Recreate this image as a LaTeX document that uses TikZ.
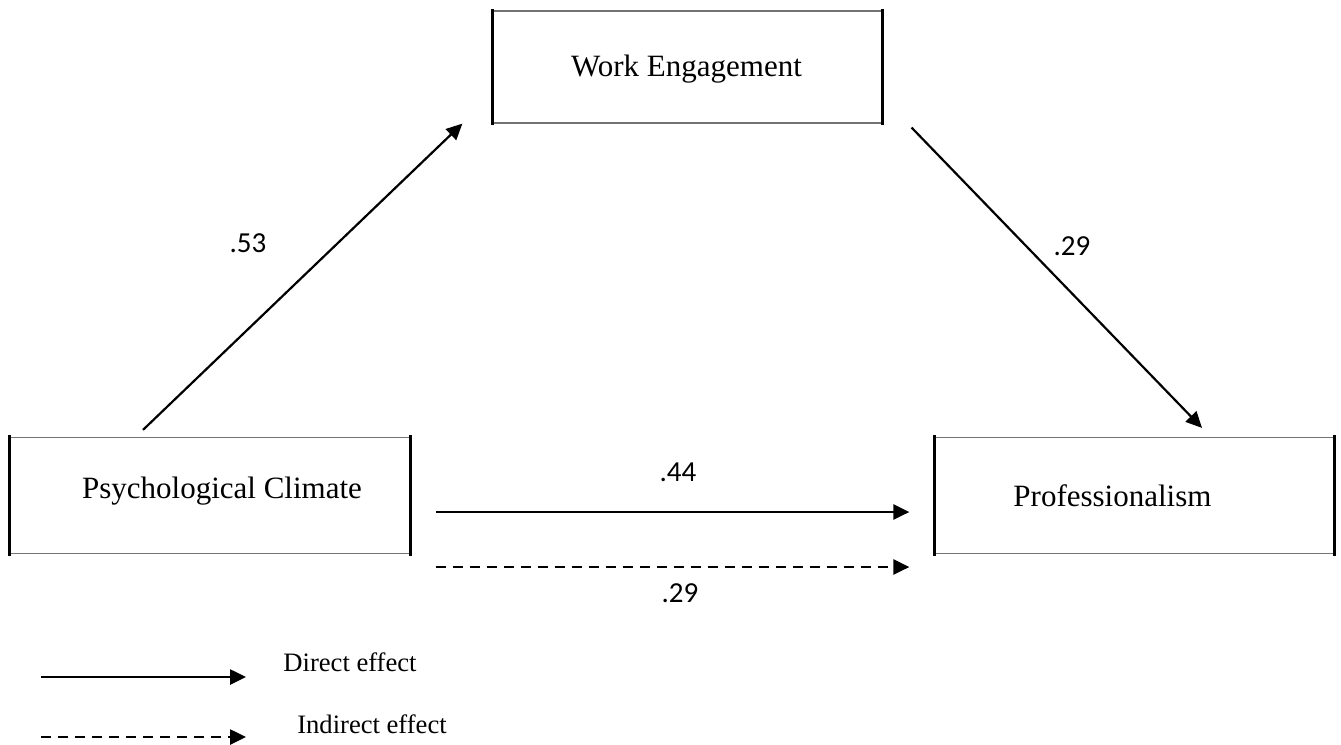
\documentclass[tikz,border=0pt]{standalone}
\usepackage{fontspec}
\setmainfont{Liberation Serif}
\newfontfamily\numfont{Carlito}
\usetikzlibrary{arrows.meta,calc,positioning}

\begin{document}
\begin{tikzpicture}[x=0.5pt,y=-0.5pt]
\tikzstyle{var}=[draw=black!55, line width=0.6pt, minimum height=58pt, inner sep=0pt]
\tikzstyle{vartext}=[font=\fontsize{15.5}{18}\selectfont, inner sep=0pt]
\tikzstyle{side}=[line width=1.6pt, line cap=rect]
\tikzstyle{coef}=[font=\numfont\fontsize{14.5}{16}\selectfont, inner sep=0pt]
\tikzstyle{path}=[line width=1.3pt, -{Triangle[length=8pt,width=7.5pt]}]
\tikzstyle{slant}=[path, line width=1.1pt]
\tikzstyle{indirect}=[path, dash pattern=on 5pt off 3.5pt]
\tikzstyle{legtext}=[font=\fontsize{13.3}{15}\selectfont, inner sep=0pt]

\useasboundingbox (0,0) rectangle (1341,745);

% variables
\node[var, minimum width=194.5pt, minimum height=56pt] (we) at (687.5,67) {};
\node[var, minimum width=200pt] (pc) at (210,495.5) {};
\node[var, minimum width=199.5pt] (pro) at (1134.5,495.5) {};
\foreach \n in {we,pc,pro} {
\draw[side] (\n.north west) -- (\n.south west) (\n.north east) -- (\n.south east);
}
\node[vartext] (wet) at ($(we.center)+(-1,2)$) {Work Engagement};
\node[vartext] (pct) at ($(pc.center)+(12,-4.5)$) {Psychological Climate};
\node[vartext] (prot) at ($(pro.center)+(-22,0.5)$) {Professionalism};

% paths
\draw[slant] ($(pc.north)+(-67,-7)$) -- ($(we.south west)+(-30,0)$);
\draw[slant] ($(we.south east)+(29,4)$) -- ($(pro.north)+(67.5,-9)$);
\draw[path] ($(pc.east)+(25,16.5)$) -- ($(pro.west)+(-25,16.5)$);
\draw[indirect] ($(pc.east)+(25,71.5)$) -- ($(pro.west)+(-25,71.5)$);

\node[coef] (a) at (248,243) {.53};
\node[coef] (b) at (1072,246) {.29};
\node[coef] (c) at (678,472) {.44};
\node[coef] (ab) at (680,593) {.29};

% legend
\coordinate (d1) at (41,677);
\coordinate (d2) at (246,677);
\coordinate (i1) at (41,737);
\coordinate (i2) at (246,737);
\draw[path] (d1) -- (d2);
\draw[indirect] (i1) -- (i2);
\node[legtext] (dl) at (350,662) {Direct effect};
\node[legtext] (il) at (372,724) {Indirect effect};
\end{tikzpicture}
\end{document}
